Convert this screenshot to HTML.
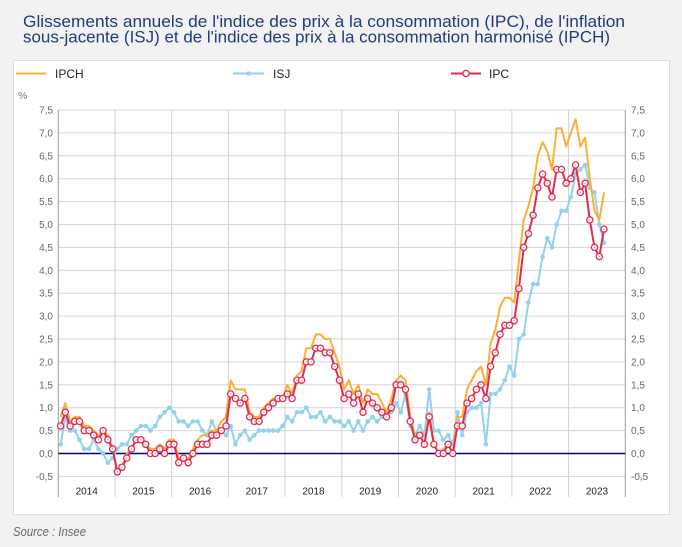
<!DOCTYPE html>
<html><head><meta charset="utf-8"><style>
html,body{margin:0;padding:0;background:#f2f2f2;}
svg{display:block;}
text{font-family:"Liberation Sans",Arial,sans-serif;}
</style></head><body>
<svg width="682" height="547" viewBox="0 0 682 547" xmlns="http://www.w3.org/2000/svg">
<defs>
<marker id="mb" markerWidth="6" markerHeight="6" refX="3" refY="3" markerUnits="userSpaceOnUse"><circle cx="3" cy="3" r="2.3" fill="#93d2ec"/></marker>
<marker id="mr" markerWidth="10" markerHeight="10" refX="5" refY="5" markerUnits="userSpaceOnUse"><circle cx="5" cy="5" r="3.1" fill="#fff" stroke="#e3294f" stroke-width="1.3"/><circle cx="5" cy="5" r="0.8" fill="#f3a3b3"/></marker>
</defs>
<rect x="0" y="0" width="682" height="547" fill="#f2f2f2"/>
<text x="23" y="27" font-size="16.5" fill="#1f3b7a" textLength="602" lengthAdjust="spacingAndGlyphs">Glissements annuels de l'indice des prix à la consommation (IPC), de l'inflation</text>
<text x="23" y="42.5" font-size="16.5" fill="#1f3b7a" textLength="587" lengthAdjust="spacingAndGlyphs">sous-jacente (ISJ) et de l'indice des prix à la consommation harmonisé (IPCH)</text>
<rect x="13.5" y="60.5" width="656" height="454" fill="#fff" stroke="#dcdcdc" stroke-width="1"/>
<!-- legend -->
<line x1="16" y1="73.5" x2="46" y2="73.5" stroke="#fbb034" stroke-width="2"/>
<text x="55" y="78" font-size="12" fill="#222">IPCH</text>
<line x1="233" y1="73.5" x2="264" y2="73.5" stroke="#93d2ec" stroke-width="2"/>
<circle cx="248.5" cy="73.5" r="2.3" fill="#93d2ec"/>
<text x="273" y="78" font-size="12" fill="#222">ISJ</text>
<line x1="451" y1="73.5" x2="481" y2="73.5" stroke="#e3294f" stroke-width="2"/>
<circle cx="466" cy="73.5" r="3.1" fill="#fff" stroke="#e3294f" stroke-width="1.3"/>
<text x="489" y="78" font-size="12" fill="#222">IPC</text>
<text x="18" y="99" font-size="10.5" fill="#777">%</text>
<!-- horizontal grid -->
<g stroke="#d6d6d6" stroke-width="1">
<line x1="58.3" y1="476.4" x2="625.3" y2="476.4"/>
<line x1="58.3" y1="430.6" x2="625.3" y2="430.6"/>
<line x1="58.3" y1="407.7" x2="625.3" y2="407.7"/>
<line x1="58.3" y1="384.8" x2="625.3" y2="384.8"/>
<line x1="58.3" y1="361.9" x2="625.3" y2="361.9"/>
<line x1="58.3" y1="339.0" x2="625.3" y2="339.0"/>
<line x1="58.3" y1="316.1" x2="625.3" y2="316.1"/>
<line x1="58.3" y1="293.2" x2="625.3" y2="293.2"/>
<line x1="58.3" y1="270.3" x2="625.3" y2="270.3"/>
<line x1="58.3" y1="247.4" x2="625.3" y2="247.4"/>
<line x1="58.3" y1="224.5" x2="625.3" y2="224.5"/>
<line x1="58.3" y1="201.6" x2="625.3" y2="201.6"/>
<line x1="58.3" y1="178.7" x2="625.3" y2="178.7"/>
<line x1="58.3" y1="155.8" x2="625.3" y2="155.8"/>
<line x1="58.3" y1="132.9" x2="625.3" y2="132.9"/>
<line x1="58.3" y1="110.0" x2="625.3" y2="110.0"/>
</g>
<!-- vertical year lines -->
<g stroke="#d2d2d2" stroke-width="1">
<line x1="115.0" y1="110" x2="115.0" y2="497"/>
<line x1="171.7" y1="110" x2="171.7" y2="497"/>
<line x1="228.4" y1="110" x2="228.4" y2="497"/>
<line x1="285.1" y1="110" x2="285.1" y2="497"/>
<line x1="341.8" y1="110" x2="341.8" y2="497"/>
<line x1="398.5" y1="110" x2="398.5" y2="497"/>
<line x1="455.2" y1="110" x2="455.2" y2="497"/>
<line x1="511.9" y1="110" x2="511.9" y2="497"/>
<line x1="568.6" y1="110" x2="568.6" y2="497"/>
</g>
<g stroke="#9a9a9a" stroke-width="1">
<line x1="58.3" y1="110" x2="58.3" y2="497"/>
<line x1="625.3" y1="110" x2="625.3" y2="497"/>
</g>
<line x1="58.3" y1="453.5" x2="625.3" y2="453.5" stroke="#000080" stroke-width="1.5"/>
<!-- tick labels -->
<g font-size="10" fill="#666" text-anchor="end">
<text x="53" y="113.5">7,5</text>
<text x="53" y="136.4">7,0</text>
<text x="53" y="159.3">6,5</text>
<text x="53" y="182.2">6,0</text>
<text x="53" y="205.1">5,5</text>
<text x="53" y="228.0">5,0</text>
<text x="53" y="250.9">4,5</text>
<text x="53" y="273.8">4,0</text>
<text x="53" y="296.7">3,5</text>
<text x="53" y="319.6">3,0</text>
<text x="53" y="342.5">2,5</text>
<text x="53" y="365.4">2,0</text>
<text x="53" y="388.3">1,5</text>
<text x="53" y="411.2">1,0</text>
<text x="53" y="434.1">0,5</text>
<text x="53" y="457.0">0,0</text>
<text x="53" y="479.9">-0,5</text>
</g>
<g font-size="10" fill="#666" text-anchor="start">
<text x="631" y="113.5">7,5</text>
<text x="631" y="136.4">7,0</text>
<text x="631" y="159.3">6,5</text>
<text x="631" y="182.2">6,0</text>
<text x="631" y="205.1">5,5</text>
<text x="631" y="228.0">5,0</text>
<text x="631" y="250.9">4,5</text>
<text x="631" y="273.8">4,0</text>
<text x="631" y="296.7">3,5</text>
<text x="631" y="319.6">3,0</text>
<text x="631" y="342.5">2,5</text>
<text x="631" y="365.4">2,0</text>
<text x="631" y="388.3">1,5</text>
<text x="631" y="411.2">1,0</text>
<text x="631" y="434.1">0,5</text>
<text x="631" y="457.0">0,0</text>
<text x="631" y="479.9">-0,5</text>
</g>
<g font-size="10" fill="#222" text-anchor="middle">
<text x="86.7" y="494.5">2014</text>
<text x="143.4" y="494.5">2015</text>
<text x="200.1" y="494.5">2016</text>
<text x="256.8" y="494.5">2017</text>
<text x="313.5" y="494.5">2018</text>
<text x="370.2" y="494.5">2019</text>
<text x="426.9" y="494.5">2020</text>
<text x="483.6" y="494.5">2021</text>
<text x="540.3" y="494.5">2022</text>
<text x="597.0" y="494.5">2023</text>
</g>
<!-- ISJ -->
<polyline fill="none" stroke="#93d2ec" stroke-width="2" stroke-linejoin="round" marker-start="url(#mb)" marker-mid="url(#mb)" marker-end="url(#mb)" points="60.6,444.3 65.3,416.9 70.1,430.6 74.8,430.6 79.5,439.8 84.2,448.9 89.0,448.9 93.7,439.8 98.4,448.9 103.1,453.5 107.9,462.7 112.6,458.1 117.3,448.9 122.0,444.3 126.8,444.3 131.5,435.2 136.2,430.6 140.9,426.0 145.7,426.0 150.4,430.6 155.1,426.0 159.8,416.9 164.6,412.3 169.3,407.7 174.0,412.3 178.7,421.4 183.5,421.4 188.2,426.0 192.9,421.4 197.6,421.4 202.4,430.6 207.1,435.2 211.8,421.4 216.5,430.6 221.3,430.6 226.0,435.2 230.7,426.0 235.4,444.3 240.2,435.2 244.9,430.6 249.6,439.8 254.3,435.2 259.1,430.6 263.8,430.6 268.5,430.6 273.2,430.6 278.0,430.6 282.7,426.0 287.4,416.9 292.1,421.4 296.9,412.3 301.6,412.3 306.3,407.7 311.0,416.9 315.8,416.9 320.5,412.3 325.2,421.4 329.9,416.9 334.7,421.4 339.4,421.4 344.1,426.0 348.8,421.4 353.6,430.6 358.3,421.4 363.0,430.6 367.7,421.4 372.5,416.9 377.2,421.4 381.9,416.9 386.6,412.3 391.4,412.3 396.1,403.1 400.8,412.3 405.5,394.0 410.3,426.0 415.0,435.2 419.7,426.0 424.4,435.2 429.2,389.4 433.9,430.6 438.6,430.6 443.3,439.8 448.1,435.2 452.8,444.3 457.5,412.3 462.2,435.2 467.0,412.3 471.7,407.7 476.4,407.7 481.1,403.1 485.9,444.3 490.6,394.0 495.3,394.0 500.0,389.4 504.8,380.2 509.5,366.5 514.2,375.6 518.9,339.0 523.7,334.4 528.4,302.4 533.1,284.0 537.8,284.0 542.6,256.6 547.3,238.2 552.0,247.4 556.7,224.5 561.5,210.8 566.2,210.8 570.9,197.0 575.6,174.1 580.4,169.5 585.1,165.0 589.8,187.9 594.5,192.4 599.3,224.5 604.0,242.8"/>
<!-- IPCH -->
<polyline fill="none" stroke="#fbb034" stroke-width="2" stroke-linejoin="round" points="60.6,416.9 65.3,403.1 70.1,421.4 74.8,416.9 79.5,416.9 84.2,426.0 89.0,426.0 93.7,430.6 98.4,435.2 103.1,430.6 107.9,435.2 112.6,448.9 117.3,471.8 122.0,467.2 126.8,453.5 131.5,448.9 136.2,439.8 140.9,439.8 145.7,444.3 150.4,448.9 155.1,448.9 159.8,444.3 164.6,448.9 169.3,439.8 174.0,439.8 178.7,458.1 183.5,458.1 188.2,458.1 192.9,448.9 197.6,439.8 202.4,435.2 207.1,435.2 211.8,430.6 216.5,430.6 221.3,421.4 226.0,416.9 230.7,380.2 235.4,389.4 240.2,389.4 244.9,389.4 249.6,412.3 254.3,416.9 259.1,416.9 263.8,407.7 268.5,403.1 273.2,398.5 278.0,398.5 282.7,398.5 287.4,384.8 292.1,394.0 296.9,375.6 301.6,371.1 306.3,348.2 311.0,348.2 315.8,334.4 320.5,334.4 325.2,339.0 329.9,339.0 334.7,352.7 339.4,366.5 344.1,389.4 348.8,380.2 353.6,394.0 358.3,384.8 363.0,403.1 367.7,389.4 372.5,394.0 377.2,394.0 381.9,403.1 386.6,412.3 391.4,398.5 396.1,380.2 400.8,375.6 405.5,380.2 410.3,416.9 415.0,435.2 419.7,435.2 424.4,444.3 429.2,412.3 433.9,444.3 438.6,453.5 443.3,448.9 448.1,444.3 452.8,453.5 457.5,416.9 462.2,416.9 467.0,389.4 471.7,380.2 476.4,371.1 481.1,366.5 485.9,384.8 490.6,343.6 495.3,329.8 500.0,306.9 504.8,297.8 509.5,297.8 514.2,302.4 518.9,261.1 523.7,219.9 528.4,206.2 533.1,187.9 537.8,155.8 542.6,142.1 547.3,151.2 552.0,169.5 556.7,128.3 561.5,128.3 566.2,146.6 570.9,132.9 575.6,119.2 580.4,146.6 585.1,137.5 589.8,178.7 594.5,210.8 599.3,219.9 604.0,192.4"/>
<!-- IPC -->
<polyline fill="none" stroke="#e3294f" stroke-width="2" stroke-linejoin="round" marker-start="url(#mr)" marker-mid="url(#mr)" marker-end="url(#mr)" points="60.6,426.0 65.3,412.3 70.1,426.0 74.8,421.4 79.5,421.4 84.2,430.6 89.0,430.6 93.7,435.2 98.4,439.8 103.1,430.6 107.9,439.8 112.6,448.9 117.3,471.8 122.0,467.2 126.8,458.1 131.5,448.9 136.2,439.8 140.9,439.8 145.7,444.3 150.4,453.5 155.1,453.5 159.8,448.9 164.6,453.5 169.3,444.3 174.0,444.3 178.7,462.7 183.5,458.1 188.2,462.7 192.9,453.5 197.6,444.3 202.4,444.3 207.1,444.3 211.8,435.2 216.5,435.2 221.3,430.6 226.0,426.0 230.7,394.0 235.4,398.5 240.2,403.1 244.9,398.5 249.6,416.9 254.3,421.4 259.1,421.4 263.8,412.3 268.5,407.7 273.2,403.1 278.0,398.5 282.7,398.5 287.4,394.0 292.1,398.5 296.9,380.2 301.6,380.2 306.3,361.9 311.0,361.9 315.8,348.2 320.5,348.2 325.2,352.7 329.9,352.7 334.7,366.5 339.4,380.2 344.1,398.5 348.8,394.0 353.6,403.1 358.3,394.0 363.0,412.3 367.7,398.5 372.5,403.1 377.2,407.7 381.9,412.3 386.6,416.9 391.4,407.7 396.1,384.8 400.8,384.8 405.5,389.4 410.3,421.4 415.0,439.8 419.7,435.2 424.4,444.3 429.2,416.9 433.9,444.3 438.6,453.5 443.3,453.5 448.1,444.3 452.8,453.5 457.5,426.0 462.2,426.0 467.0,403.1 471.7,398.5 476.4,389.4 481.1,384.8 485.9,398.5 490.6,366.5 495.3,352.7 500.0,334.4 504.8,325.3 509.5,325.3 514.2,320.7 518.9,288.6 523.7,247.4 528.4,233.7 533.1,215.3 537.8,187.9 542.6,174.1 547.3,183.3 552.0,197.0 556.7,169.5 561.5,169.5 566.2,183.3 570.9,178.7 575.6,165.0 580.4,192.4 585.1,183.3 589.8,219.9 594.5,247.4 599.3,256.6 604.0,229.1"/>
<text x="13" y="536" font-size="12.5" font-style="italic" fill="#666" textLength="73" lengthAdjust="spacingAndGlyphs">Source : Insee</text>
</svg>
</body></html>
